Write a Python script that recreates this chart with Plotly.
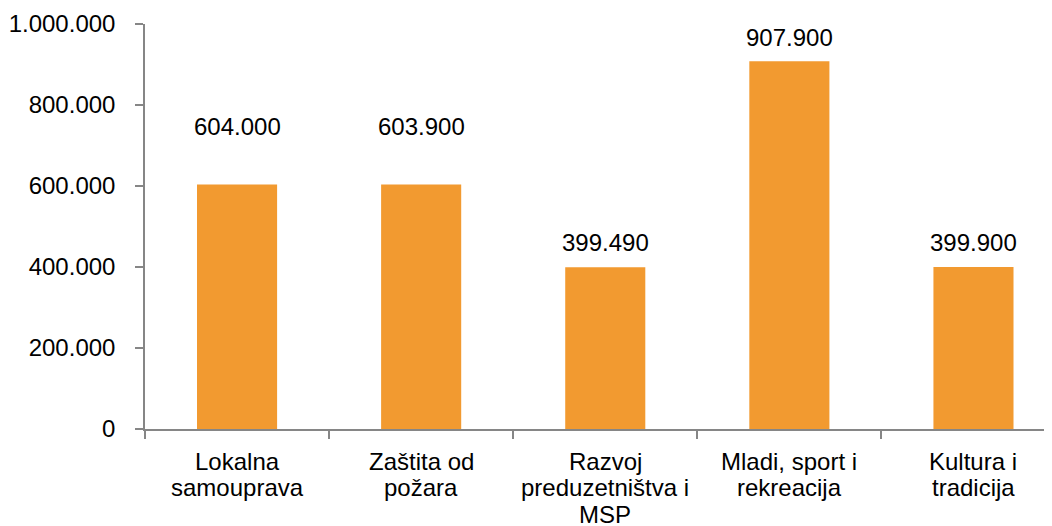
import plotly.graph_objects as go

categories = ["Lokalna samouprava", "Zaštita od požara", "Razvoj preduzetništva i MSP",
              "Mladi, sport i rekreacija", "Kultura i tradicija"]
category_lines = [["Lokalna", "samouprava"], ["Zaštita od", "požara"],
                  ["Razvoj", "preduzetništva i", "MSP"],
                  ["Mladi, sport i", "rekreacija"], ["Kultura i", "tradicija"]]
values = [604000, 603900, 399490, 907900, 399900]
label_texts = ["604.000", "603.900", "399.490", "907.900", "399.900"]
y_ticks = [0, 200000, 400000, 600000, 800000, 1000000]
y_tick_labels = ["0", "200.000", "400.000", "600.000", "800.000", "1.000.000"]

# Excel labels were dragged around a bit, shift in px above bar top
label_shift = [58, 58, 25, 24, 25]

font = dict(family="Liberation Sans, Arial, sans-serif", size=24, color="#000000")
axis_color = "#868686"

fig = go.Figure()
fig.add_trace(go.Bar(
    x=categories, y=values,
    marker=dict(color="#F29A30", line=dict(width=0)),
    width=0.435,
    hoverinfo="skip",
))

for cat, val, txt, sh in zip(categories, values, label_texts, label_shift):
    fig.add_annotation(x=cat, y=val, text=txt, showarrow=False,
                       yanchor="middle", yshift=sh, font=font)

# category labels, one annotation per line to get Excel's tighter line spacing
for cat, lines in zip(categories, category_lines):
    for i, line in enumerate(lines):
        fig.add_annotation(x=cat, y=0, yref="paper", text=line, showarrow=False,
                           yanchor="middle", yshift=-32 - 26.5 * i, font=font)

fig.update_layout(
    width=1052, height=526,
    margin=dict(l=137, r=0, t=16, b=105),
    paper_bgcolor="white", plot_bgcolor="white",
    showlegend=False,
    font=font,
)
# the original picture is cropped a bit on the right, so the last slot is cut
fig.update_xaxes(
    range=[-0.5, 4.47],
    showline=True, linecolor=axis_color, linewidth=1.5,
    ticks="outside", tickson="boundaries", ticklen=8, tickcolor=axis_color, tickwidth=1.5,
    showgrid=False, showticklabels=False, automargin=False,
)
fig.update_yaxes(
    range=[0, 1000000], tickvals=y_ticks, ticktext=y_tick_labels,
    showline=True, linecolor=axis_color, linewidth=1.5,
    ticks="outside", ticklen=8, tickcolor=axis_color, tickwidth=1.5,
    showgrid=False, zeroline=False, tickfont=font, ticklabelstandoff=15,
    automargin=False,
)

fig.write_html("out.html")
